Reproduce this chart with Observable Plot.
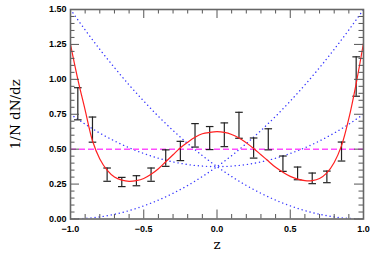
<!DOCTYPE html>
<html><head><meta charset="utf-8">
<script src="https://cdn.jsdelivr.net/npm/d3@7"></script>
<script src="https://cdn.jsdelivr.net/npm/@observablehq/plot@0.6"></script>
<style>html,body{margin:0;padding:0;background:#fff;}</style>
</head><body><div id="chart"></div>
<script>
// data bins (z centre, lower, upper)
const binZ  = [-0.95,-0.85,-0.75,-0.65,-0.55,-0.45,-0.35,-0.25,-0.15,-0.05,0.05,0.15,0.25,0.35,0.45,0.55,0.65,0.75,0.85,0.95];
const binLo = [0.71,0.55,0.27,0.232,0.238,0.27,0.377,0.418,0.515,0.497,0.518,0.578,0.436,0.495,0.341,0.281,0.253,0.26,0.415,0.879];
const binHi = [0.94,0.73,0.365,0.298,0.31,0.365,0.495,0.556,0.683,0.662,0.688,0.764,0.58,0.646,0.451,0.372,0.329,0.343,0.551,1.161];

// fitted curve (red)
const fitZ = [-1,-0.95,-0.9,-0.85,-0.8,-0.75,-0.7,-0.65,-0.6,-0.55,-0.5,-0.45,-0.4,-0.35,-0.3,-0.25,-0.2,-0.15,-0.1,-0.05,0,0.05,0.1,0.15,0.2,0.25,0.3,0.35,0.4,0.45,0.5,0.55,0.6,0.65,0.7,0.75,0.8,0.85,0.9,0.95,1];
const fitV = [1.25,1.0,0.78,0.56,0.43,0.35,0.30,0.278,0.27,0.275,0.29,0.32,0.36,0.41,0.46,0.51,0.55,0.585,0.61,0.62,0.625,0.62,0.605,0.58,0.545,0.505,0.46,0.415,0.37,0.335,0.305,0.285,0.275,0.275,0.29,0.33,0.405,0.525,0.72,0.97,1.26];

// component curves (blue dotted)
const compZ = [-1,-0.9,-0.8,-0.7,-0.6,-0.5,-0.4,-0.3,-0.2,-0.1,0,0.1,0.2,0.3,0.4,0.5,0.6,0.7,0.8,0.9,1];
const compA = [1.5,1.354,1.215,1.084,0.96,0.844,0.735,0.634,0.54,0.454,0.375,0.304,0.24,0.184,0.135,0.094,0.06,0.034,0.015,0.004,0];
const compB = [0,0.004,0.015,0.034,0.06,0.094,0.135,0.184,0.24,0.304,0.375,0.454,0.54,0.634,0.735,0.844,0.96,1.084,1.215,1.354,1.5];
const compC = [0.75,0.679,0.615,0.559,0.51,0.469,0.435,0.409,0.39,0.379,0.375,0.379,0.39,0.409,0.435,0.469,0.51,0.559,0.615,0.679,0.75];

const flatRef = [0.5];

// ticks
const xMajor = [-1,-0.5,0,0.5,1];
const xMinor = [-0.9,-0.8,-0.7,-0.6,-0.4,-0.3,-0.2,-0.1,0.1,0.2,0.3,0.4,0.6,0.7,0.8,0.9];
const yMajor = [0,0.25,0.5,0.75,1,1.25,1.5];
const yMinor = [0.05,0.1,0.15,0.2,0.3,0.35,0.4,0.45,0.55,0.6,0.65,0.7,0.8,0.85,0.9,0.95,1.05,1.1,1.15,1.2,1.3,1.35,1.4,1.45];
const xLabel = "z";
const yLabel = "1/N dN/dz";

const bins = binZ.map((z,i)=>({z, lo:binLo[i], hi:binHi[i]}));
const fit = fitZ.map((z,i)=>({z, v:fitV[i]}));
const comps = [compA, compB, compC].map(arr => compZ.map((z,i)=>({z, v:arr[i]})));

const W = 374, H = 254, mL = 70, mR = 11, mT = 9, mB = 35.5;
const iW = W - mL - mR, iH = H - mT - mB;

const capSymbol = { draw(ctx){ ctx.moveTo(-3.8,0); ctx.lineTo(3.8,0); } };
const tickFont = {fontFamily:"'Liberation Sans', Arial, sans-serif", fontWeight:"bold", fontSize:9};
const labelFont = {fontFamily:"'DejaVu Serif', serif", fontSize:13.5, fontWeight:"normal"};

const chart = Plot.plot({
  width: W, height: H,
  marginLeft: mL, marginRight: mR, marginTop: mT, marginBottom: mB,
  x: {domain: [-1, 1]},
  y: {domain: [0, 1.5]},
  style: {background: "#fff", color: "#000", overflow: "visible"},
  marks: [
    ...comps.map(c => Plot.line(c, {x:"z", y:"v", curve:"natural", stroke:"#3a3aff", strokeWidth:1.4, strokeLinecap:"round", strokeDasharray:"0.1,4", clip:true})),
    Plot.ruleY(flatRef, {stroke:"#ff4dff", strokeWidth:1.5, strokeDasharray:"6,3"}),
    Plot.ruleX(bins, {x:"z", y1:"lo", y2:"hi", stroke:"#222", strokeWidth:1.2}),
    Plot.dot(bins, {x:"z", y:"lo", symbol:capSymbol, stroke:"#222", strokeWidth:1.2, fill:"none", r:3}),
    Plot.dot(bins, {x:"z", y:"hi", symbol:capSymbol, stroke:"#222", strokeWidth:1.2, fill:"none", r:3}),
    Plot.line(fit, {x:"z", y:"v", curve:"catmull-rom", stroke:"#ff2020", strokeWidth:1.2, clip:true}),
    // inward ticks on all four sides
    Plot.ruleX(xMajor, {stroke:"#555", insetTop: iH - 9}),
    Plot.ruleX(xMajor, {stroke:"#555", insetBottom: iH - 9}),
    Plot.ruleX(xMinor, {stroke:"#555", insetTop: iH - 4.5}),
    Plot.ruleX(xMinor, {stroke:"#555", insetBottom: iH - 4.5}),
    Plot.ruleY(yMajor, {stroke:"#555", insetRight: iW - 9}),
    Plot.ruleY(yMajor, {stroke:"#555", insetLeft: iW - 9}),
    Plot.ruleY(yMinor, {stroke:"#555", insetRight: iW - 4.5}),
    Plot.ruleY(yMinor, {stroke:"#555", insetLeft: iW - 4.5}),
    Plot.frame({stroke:"#666", strokeWidth:1.6}),
    Plot.axisX({ticks: xMajor, tickSize: 0, tickPadding: 7, tickFormat: d => d3.format(".1f")(d).replace("-", "\u2212"), label: null, ...tickFont}),
    Plot.axisY({ticks: yMajor, tickSize: 0, tickPadding: 4, tickFormat: d3.format(".2f"), label: null, ...tickFont}),
    Plot.axisX({ticks: [], tickSize: 0, label: xLabel, labelAnchor: "center", labelArrow: "none", labelOffset: 30, ...labelFont}),
    Plot.axisY({ticks: [], tickSize: 0, label: yLabel, labelAnchor: "center", labelArrow: "none", labelOffset: 60, ...labelFont})
  ]
});
document.getElementById("chart").appendChild(chart);
</script></body></html>
